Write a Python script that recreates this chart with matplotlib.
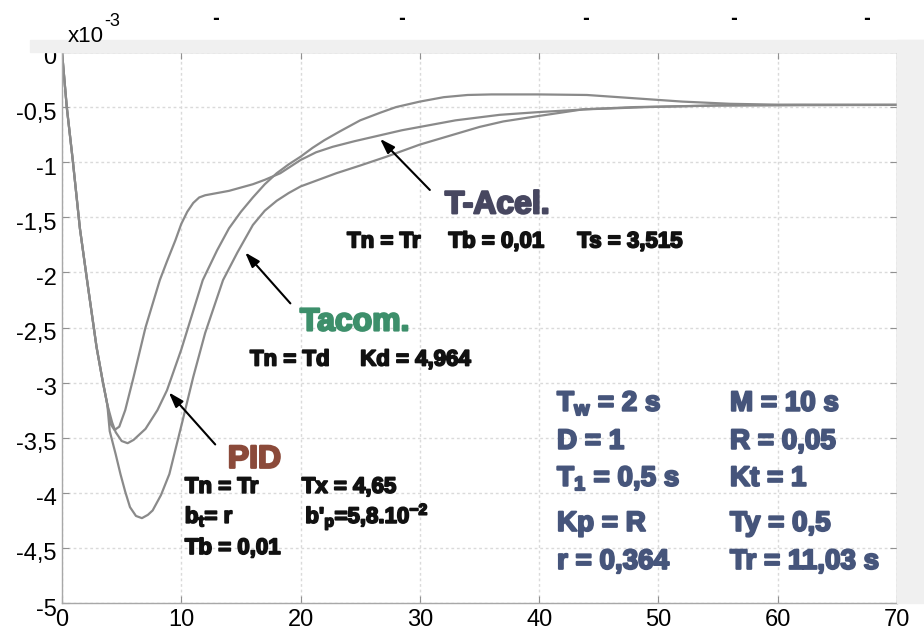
import numpy as np
import matplotlib
matplotlib.use("Agg")
import matplotlib.pyplot as plt
import matplotlib.patheffects as pe
import matplotlib.transforms as mtransforms
from matplotlib.patches import Rectangle

plt.rcParams['mathtext.fontset'] = 'custom'
plt.rcParams['mathtext.rm'] = 'Liberation Sans:bold'
plt.rcParams['mathtext.it'] = 'Liberation Sans:bold'
plt.rcParams['mathtext.bf'] = 'Liberation Sans:bold'

# Response curves (values in units of 1e-3)
t_acel = [0, 0.4, 0.9, 1.5, 2.1, 2.9, 3.4, 3.8, 4.1, 4.4, 4.8, 5.3, 6, 7,
          8.2, 8.8, 9.5, 10, 10.5, 11, 11.5, 12, 13, 14, 15, 16, 17, 18.3,
          20, 21.3, 22.7, 24.5, 26.5, 28.5, 31, 33, 36.7, 40, 44, 49, 55,
          62, 70]
v_acel = [0, -0.5, -0.98, -1.6, -2.07, -2.68, -2.98, -3.2, -3.38, -3.43,
          -3.4, -3.25, -2.95, -2.5, -2.07, -1.9, -1.71, -1.56, -1.45, -1.37,
          -1.32, -1.3, -1.28, -1.26, -1.23, -1.2, -1.16, -1.10, -0.98, -0.91,
          -0.86, -0.81, -0.76, -0.71, -0.66, -0.62, -0.57, -0.545, -0.52,
          -0.5, -0.485, -0.48, -0.48]

t_pid = [0, 0.4, 0.9, 1.5, 2.1, 2.9, 3.4, 3.8, 4.2, 4.5, 5, 5.5, 6, 7, 8,
         8.8, 10, 11, 11.8, 13, 14, 15, 16, 17, 18, 19, 20, 21, 22, 23.3,
         25, 26.7, 28, 30, 32, 34, 36, 40, 44, 48, 52, 56, 60, 70]
v_pid = [0, -0.5, -0.98, -1.6, -2.07, -2.68, -2.98, -3.2, -3.36, -3.45,
         -3.53, -3.55, -3.52, -3.42, -3.25, -3.07, -2.7, -2.35, -2.07, -1.8,
         -1.6, -1.45, -1.32, -1.2, -1.1, -1.02, -0.95, -0.87, -0.8, -0.72,
         -0.62, -0.55, -0.5, -0.45, -0.41, -0.39, -0.385, -0.385, -0.39,
         -0.42, -0.45, -0.47, -0.478, -0.48]

t_tacom = [0, 0.4, 0.9, 1.5, 2.1, 2.9, 3.4, 3.8, 4.0, 4.5, 4.9, 5.3, 5.7,
           6.2, 6.7, 7.2, 7.6, 8.3, 9, 10.1, 11, 12, 13.5, 14.7, 16, 17, 18,
           19, 20, 23, 25, 27.2, 30, 32.5, 35, 37, 40, 43.7, 48, 55, 70]
v_tacom = [0, -0.5, -0.98, -1.6, -2.07, -2.68, -2.98, -3.2, -3.44, -3.65,
           -3.83, -3.99, -4.13, -4.21, -4.23, -4.2, -4.16, -4.02, -3.83,
           -3.35, -2.95, -2.55, -2.07, -1.82, -1.57, -1.44, -1.35, -1.28,
           -1.22, -1.1, -1.03, -0.95, -0.84, -0.76, -0.68, -0.63, -0.58,
           -0.52, -0.5, -0.485, -0.48]

x_ticks = [0, 10, 20, 30, 40, 50, 60, 70]
y_ticks = [0, -0.5, -1, -1.5, -2, -2.5, -3, -3.5, -4, -4.5, -5]
y_labels = ['0', '-0,5', '-1', '-1,5', '-2', '-2,5', '-3', '-3,5', '-4',
            '-4,5', '-5']

tick_font = ['Liberation Sans Narrow', 'Liberation Sans', 'DejaVu Sans']

fig = plt.figure(figsize=(9.24, 6.41), dpi=100, facecolor='white')
# light grey frame strips around the plot box
fig.patches.append(Rectangle((30 / 924, 1 - 52 / 641), 1, 12 / 641,
                             transform=fig.transFigure, color='#f0f0f0', zorder=0))
fig.patches.append(Rectangle((897 / 924, 38 / 641), 27 / 924, 1 - 52 / 641 - 38 / 641 + 12 / 641,
                             transform=fig.transFigure, color='#f0f0f0', zorder=0))

ax = fig.add_axes([62 / 924, 38 / 641, 835 / 924, 551 / 641])
ax.set_facecolor('white')

line_kw = dict(color='#8a8a8a', lw=1.6, solid_capstyle='round',
               solid_joinstyle='round')
ax.plot(t_acel, v_acel, **line_kw)
ax.plot(t_pid, v_pid, **line_kw)
ax.plot(t_tacom, v_tacom, **line_kw)

ax.set_xlim(0, 70)
ax.set_ylim(-5, 0)
ax.set_xticks(x_ticks)
ax.set_xticklabels([str(x) for x in x_ticks], fontfamily=tick_font, fontsize=17)
ax.set_yticks(y_ticks)
ax.set_yticklabels(y_labels, fontfamily=tick_font, fontsize=17)
ax.tick_params(direction='in', length=5, color='#909090', top=True, right=True,
               pad=4)
# y labels sit a few pixels below their ticks
shift = mtransforms.ScaledTranslation(0, -4 / 100, fig.dpi_scale_trans)
for lab in ax.get_yticklabels():
    lab.set_transform(lab.get_transform() + shift)
ax.grid(True, color='#dadada', linestyle=(0, (2, 2)), lw=1)
for s in ax.spines.values():
    s.set_color('#a8a8a8')
    s.set_linewidth(1)

# exponent label
fig.text(68 / 924, 1 - 42 / 641, 'x10', fontfamily=tick_font, fontsize=16)
fig.text(104 / 924, 1 - 26 / 641, '-3', fontfamily=tick_font, fontsize=13)

# small marks above the plot
for px in [216, 402, 586, 734, 867]:
    fig.text(px / 924, 1 - 24 / 641, '-', fontsize=12, ha='center',
             fontweight='bold')


def heavy(color, w=1.3):
    # thicken the bold glyphs a little
    return dict(fontfamily='Liberation Sans', fontweight='bold', color=color,
                path_effects=[pe.withStroke(linewidth=w, foreground=color)])


arrow = dict(arrowstyle='-|>,head_length=0.9,head_width=0.3', color='black', lw=1.5)
ink = '#111111'

# T-Acel.
ax.annotate('', xy=(26.5, -0.77), xytext=(31.0, -1.27), arrowprops=arrow)
ax.text(32.1, -1.464, 'T-Acel.', fontsize=23, **heavy('#474760', 1.6))
ax.text(23.9, -1.773, 'Tn = Tr', fontsize=16, **heavy(ink))
ax.text(32.4, -1.773, 'Tb = 0,01', fontsize=16, **heavy(ink))
ax.text(43.2, -1.773, 'Ts = 3,515', fontsize=16, **heavy(ink))

# Tacom.
ax.annotate('', xy=(15.2, -1.8), xytext=(19.3, -2.30), arrowprops=arrow)
ax.text(19.95, -2.527, 'Tacom.', fontsize=23, **heavy('#3d8f6b', 1.6))
ax.text(15.76, -2.845, 'Tn = Td', fontsize=16, **heavy(ink))
ax.text(25.0, -2.845, 'Kd = 4,964', fontsize=16, **heavy(ink))

# PID
ax.annotate('', xy=(8.8, -3.07), xytext=(13.0, -3.58), arrowprops=arrow)
ax.text(13.9, -3.773, 'PID', fontsize=23, **heavy('#8b4a3a', 1.6))
ax.text(10.3, -4.0, 'Tn = Tr', fontsize=16, **heavy(ink))
ax.text(20.1, -4.0, 'Tx = 4,65', fontsize=16, **heavy(ink))
ax.text(10.3, -4.273, r'b$_{t}$= r', fontsize=16, **heavy(ink))
ax.text(20.4, -4.273, r"b'$_{p}$=5,8.10$^{-2}$", fontsize=16, **heavy(ink))
ax.text(10.3, -4.555, 'Tb = 0,01', fontsize=16, **heavy(ink))

# parameter block
navy = '#46557b'
col1 = [r'T$_{w}$ = 2 s', 'D = 1', r'T$_{1}$ = 0,5 s', 'Kp = R', 'r = 0,364']
col2 = ['M = 10 s', 'R = 0,05', 'Kt = 1', 'Ty = 0,5', 'Tr = 11,03 s']
rows = [-3.255, -3.6, -3.936, -4.345, -4.69]
for a, b, y in zip(col1, col2, rows):
    ax.text(41.5, y, a, fontsize=20, **heavy(navy, 1.5))
    ax.text(56.0, y, b, fontsize=20, **heavy(navy, 1.5))

fig.savefig('out.png', dpi=100, facecolor='white')
